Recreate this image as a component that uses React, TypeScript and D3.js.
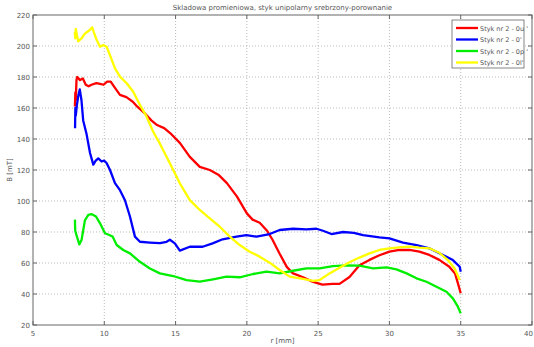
import React from "react";
import * as d3 from "d3";

const title = "Skladowa promieniowa, styk unipolarny srebrzony-porownanie";
const xTicks = [5, 10, 15, 20, 25, 30, 35, 40];
const yTicks = [20, 40, 60, 80, 100, 120, 140, 160, 180, 200, 220];
const seriesNames = ["Styk nr 2 - 0u '", "Styk nr 2 - 0'", "Styk nr 2 - 0p '", "Styk nr 2 - 0l'"];
const seriesColors = ["#ff0000", "#0000ff", "#00ee00", "#ffff00"];

const red: [number, number][] = [[7.94,161],[7.97,170],[8.0,165],[8.05,178],[8.1,180],[8.3,178],[8.5,179],[8.7,175],[8.9,174],[9.1,175],[9.45,176],[9.7,175.5],[9.95,175],[10.2,177],[10.45,177],[10.75,173],[11.1,168.5],[11.55,167],[12.0,164],[12.3,161],[12.9,156],[13.3,152],[13.7,149],[14.2,147],[14.6,144],[15.3,137.5],[16.0,128.5],[16.7,122],[17.4,120],[18.0,117],[18.6,111.5],[19.3,103],[20.0,92],[20.4,88],[20.9,86],[21.4,81],[21.8,75],[22.3,66],[22.8,57.5],[23.2,53.5],[23.9,51],[24.6,48],[25.3,46],[26.0,46.5],[26.5,46.5],[27.2,51],[27.9,58.5],[28.6,62],[29.3,65],[30.0,67.3],[30.7,68.4],[31.4,68.5],[32.1,67.3],[32.8,65.2],[33.5,62],[34.2,57.6],[34.6,53.3],[34.8,47],[35.0,40.5]];
const blue: [number, number][] = [[7.95,147],[7.97,160],[8.0,155],[8.08,162],[8.18,168],[8.28,172],[8.4,165],[8.52,152],[8.76,143],[9.0,131],[9.23,123.5],[9.4,126],[9.58,127.5],[9.81,125.5],[10.0,126],[10.16,124.5],[10.4,120],[10.75,111.5],[11.1,107],[11.45,100.5],[11.8,90],[12.15,77],[12.5,73.7],[13.2,73.2],[13.9,72.8],[14.37,73.7],[14.6,75],[14.95,72.7],[15.3,68],[16.0,70.5],[16.9,70.5],[17.6,72.7],[18.3,75.3],[19.27,77],[19.97,78],[20.68,77],[21.6,78.7],[22.3,81.3],[23.24,82.1],[24.18,81.7],[24.88,82.1],[25.34,80.8],[25.93,78.7],[26.75,80],[27.5,79.5],[28.15,78],[29.3,76.6],[30.0,75.9],[30.95,73.1],[31.9,71.6],[32.8,69.5],[33.75,65.2],[34.45,61.9],[34.93,57.6],[35.0,54.4]];
const green: [number, number][] = [[7.94,88],[7.96,81],[8.05,78],[8.25,72],[8.41,75],[8.64,87.5],[8.88,91],[9.1,91.5],[9.23,91],[9.42,90],[9.7,85.6],[10.05,79.2],[10.35,78.1],[10.59,77],[10.87,71.6],[11.33,68.4],[11.8,66.2],[12.5,60.8],[13.2,56.5],[13.9,53.3],[14.83,51.6],[15.77,49],[16.7,48],[17.63,49.5],[18.57,51.2],[19.5,50.8],[20.44,52.9],[21.38,54.4],[22.3,53.3],[23.24,55],[24.18,56.5],[25.1,56.5],[26.04,58],[26.98,58.5],[27.9,58.3],[28.85,56.5],[29.8,57.2],[30.49,55.9],[31.2,53.3],[31.9,50.1],[32.6,47.9],[33.3,44.7],[34.0,41.5],[34.45,37.2],[34.8,31.8],[35,27.5]];
const yellow: [number, number][] = [[7.94,209],[7.96,205],[8.0,211],[8.17,203],[8.41,205],[8.64,208],[9.0,210.5],[9.15,212],[9.3,208],[9.46,204],[9.7,199.5],[9.93,200.6],[10.16,199.5],[10.4,194],[10.75,185.6],[11.1,180.2],[11.57,176],[12.03,170.5],[12.5,162],[12.97,154.4],[13.43,144.7],[13.9,137],[14.6,124.3],[15.3,111.4],[16.0,100.6],[16.7,94.2],[17.4,88.8],[18.1,83.4],[18.8,77],[19.5,71.6],[20.2,67.3],[20.9,64.1],[21.6,60.2],[22.3,55.5],[23.0,51.2],[23.94,49.7],[24.64,48.4],[25.1,49],[25.8,53.3],[26.5,57],[27.2,60.5],[27.9,63.5],[28.6,66.2],[29.3,68.4],[30.0,69.5],[30.7,70.1],[31.4,70.5],[32.1,69.9],[32.8,69.5],[33.5,66.6],[34.1,61.9],[34.57,56.5],[34.93,49]];

const seriesData = [red, blue, green, yellow];

const W = 534, H = 347;
const L = 33, R = 532, T = 15, B = 325;
const font = "DejaVu Sans, sans-serif";
const textColor = "#555";

export default function App() {
  const x = d3.scaleLinear().domain([5, 40]).range([L, R]);
  const y = d3.scaleLinear().domain([20, 220]).range([B, T]);
  const line = d3.line<[number, number]>().x(d => x(d[0])).y(d => y(d[1]));
  const lx = 452, ly = 20, lw = 72, lh = 48;
  const lastX = xTicks[xTicks.length - 1];
  return (
    <svg width={W} height={H} style={{ position: "absolute", left: 0, top: 0, background: "#fff" }}>
      <rect x={0} y={0} width={W} height={H} fill="#fff" />
      {xTicks.slice(1, -1).map(t => (
        <line key={"gx" + t} x1={x(t)} x2={x(t)} y1={T} y2={B} stroke="#aaa" strokeWidth={0.8} strokeDasharray="1,2" />
      ))}
      {yTicks.slice(1, -1).map(t => (
        <line key={"gy" + t} x1={L} x2={R} y1={y(t)} y2={y(t)} stroke="#aaa" strokeWidth={0.8} strokeDasharray="1,2" />
      ))}
      <rect x={L} y={T} width={R - L} height={B - T} fill="none" stroke="#666" strokeWidth={1} />
      {xTicks.map(t => (
        <g key={"tx" + t}>
          <line x1={x(t)} x2={x(t)} y1={B} y2={B - 4} stroke="#666" />
          <line x1={x(t)} x2={x(t)} y1={T} y2={T + 4} stroke="#666" />
          <text x={t === lastX ? W - 1 : x(t)} y={B + 11} fontSize={7} fontFamily={font} fill={textColor} textAnchor={t === lastX ? "end" : "middle"}>{t}</text>
        </g>
      ))}
      {yTicks.map(t => (
        <g key={"ty" + t}>
          <line x1={L} x2={L + 4} y1={y(t)} y2={y(t)} stroke="#666" />
          <line x1={R} x2={R - 4} y1={y(t)} y2={y(t)} stroke="#666" />
          <text x={L - 3} y={y(t) + 2.5} fontSize={7} fontFamily={font} fill={textColor} textAnchor="end">{t}</text>
        </g>
      ))}
      {seriesData.map((s, i) => (
        <path key={"s" + i} d={line(s) || ""} fill="none" stroke={seriesColors[i]} strokeWidth={2.3} strokeLinejoin="round" />
      ))}
      <text x={(L + R) / 2} y={10} fontSize={7} fontFamily={font} fill={textColor} textAnchor="middle">{title}</text>
      <text x={(L + R) / 2} y={343} fontSize={7} fontFamily={font} fill={textColor} textAnchor="middle">r [mm]</text>
      <text transform={`translate(12,${(T + B) / 2}) rotate(-90)`} fontSize={7} fontFamily={font} fill={textColor} textAnchor="middle">B [mT]</text>
      <rect x={lx} y={ly} width={lw} height={lh} fill="#fff" stroke="#666" strokeWidth={0.8} />
      {seriesNames.map((n, i) => (
        <g key={"lg" + i}>
          <line x1={lx + 4} x2={lx + 26} y1={ly + 8 + i * 11.5} y2={ly + 8 + i * 11.5} stroke={seriesColors[i]} strokeWidth={2.3} />
          <text x={lx + 28} y={ly + 10.5 + i * 11.5} fontSize={6.5} fontFamily={font} fill={textColor}>{n}</text>
        </g>
      ))}
    </svg>
  );
}
